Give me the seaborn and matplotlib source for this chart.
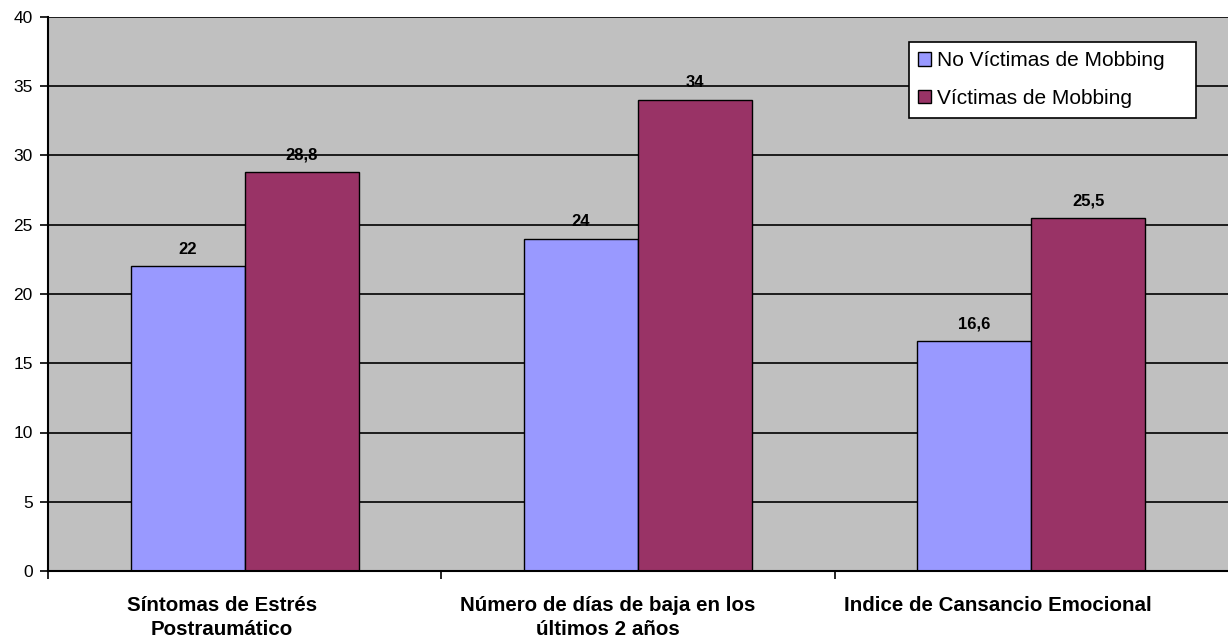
import matplotlib
matplotlib.use("Agg")
import matplotlib.pyplot as plt
import matplotlib.transforms as mtransforms
import pandas as pd
import seaborn as sns

categories = ["Síntomas de Estrés\nPostraumático",
              "Número de días de baja en los\núltimos 2 años",
              "Indice de Cansancio Emocional"]
groups = ["No Víctimas de Mobbing", "Víctimas de Mobbing"]
no_victimas = [22, 24, 16.6]
victimas = [28.8, 34, 25.5]
value_labels = [["22", "24", "16,6"], ["28,8", "34", "25,5"]]

df = pd.DataFrame({
    "categoria": categories * 2,
    "grupo": [groups[0]] * 3 + [groups[1]] * 3,
    "valor": no_victimas + victimas,
})

sns.set_style("white")
plt.rcParams["font.family"] = ["Liberation Sans", "DejaVu Sans"]

fig = plt.figure(figsize=(12.28, 6.41), dpi=100)
ax = fig.add_axes([48 / 1228, 1 - 571 / 641, 1 - 48 / 1228, (571 - 17) / 641])
ax.set_facecolor("#C0C0C0")

sns.barplot(data=df, x="categoria", y="valor", hue="grupo",
            palette=["#9999FF", "#993366"], saturation=1, width=0.58, gap=0,
            edgecolor="black", linewidth=1.0, ax=ax)

for cont, labs in zip(ax.containers, value_labels):
    ax.bar_label(cont, labels=labs, padding=7, fontsize=12, fontweight="bold", color="black")

ax.set_ylim(0, 40)
ax.set_xlim(-0.5, 2.5)
ax.set_yticks(range(0, 41, 5))
ax.yaxis.grid(True, color="black", linewidth=1.2)
ax.set_axisbelow(True)
ax.tick_params(axis="y", length=6, width=1.2, color="black", labelsize=12.5, pad=5, left=True,
               labelcolor="black")
ax.set_xticks([0, 1, 2])
ax.set_xticklabels(categories, fontsize=14.8, fontweight="bold", linespacing=1.35, color="black")
ax.tick_params(axis="x", length=0, pad=18)
ax.set_xticks([-0.5, 0.5, 1.5], minor=True)
ax.tick_params(axis="x", which="minor", length=6, width=1.2, color="black", bottom=True)

# the category labels sit a little left of the group centres in the original
for lab, dx in zip(ax.get_xticklabels(), [-23, -30, -33]):
    lab.set_transform(lab.get_transform() + mtransforms.ScaledTranslation(dx / 100, 0, fig.dpi_scale_trans))

for s in ["top", "right"]:
    ax.spines[s].set_visible(False)
for s in ["left", "bottom"]:
    ax.spines[s].set_color("black")
    ax.spines[s].set_linewidth(1.5)

ax.set_xlabel("")
ax.set_ylabel("")

leg_h = 77 / 554
leg = ax.legend(loc="upper left",
                bbox_to_anchor=((909 - 48) / 1180, (571 - 42) / 554 - leg_h, 287 / 1180, leg_h),
                mode="expand", fontsize=15, frameon=True, fancybox=False, framealpha=1,
                edgecolor="black", handlelength=0.6, handleheight=0.6,
                handletextpad=0.3, borderpad=0.45, labelspacing=0.9, borderaxespad=0)
leg.get_frame().set_linewidth(1.2)
for t in leg.get_texts():
    t.set_color("black")

fig.savefig("out.png", dpi=100)
